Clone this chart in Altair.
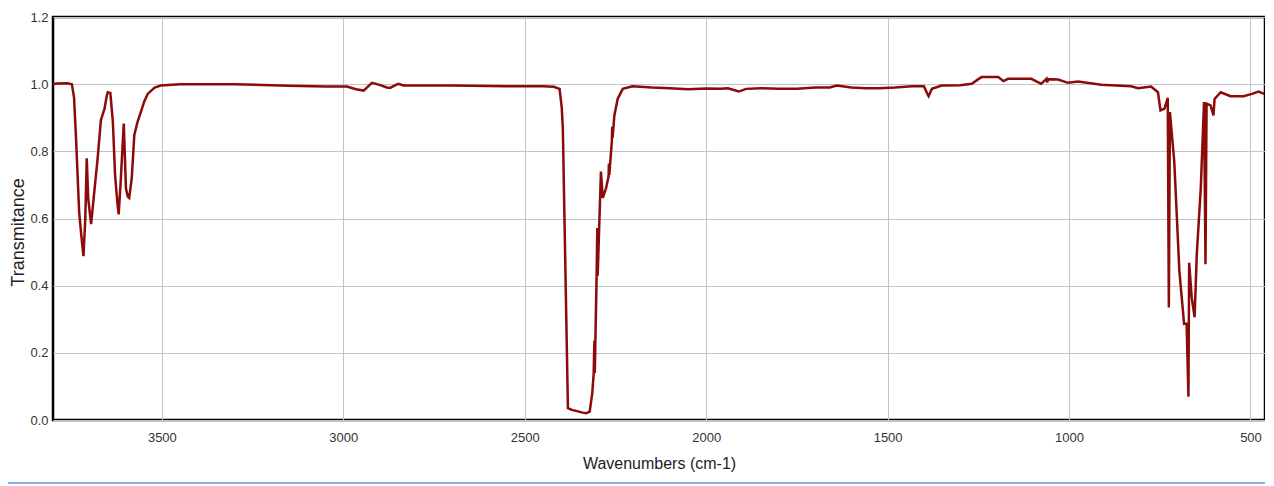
import altair as alt
import pandas as pd

wavenumber = [
    3800, 3790, 3760, 3748, 3742, 3737, 3728, 3722, 3716, 3711, 3707, 3703, 3695, 3688,
    3677, 3668, 3663, 3658, 3652, 3649, 3642, 3635, 3629, 3622, 3619, 3614, 3605, 3599,
    3594, 3590, 3583, 3576, 3567, 3558, 3548, 3539, 3520, 3503, 3450, 3300, 3150, 3050,
    2990, 2965, 2944, 2930, 2921, 2900, 2880, 2871, 2855, 2848, 2834, 2700, 2550, 2450,
    2420, 2404, 2398, 2395, 2381, 2370, 2340, 2331, 2321, 2314, 2310, 2308, 2307, 2302,
    2300, 2299, 2290, 2285, 2276, 2269, 2268, 2267, 2260, 2259, 2258, 2253, 2244, 2230,
    2203, 2150, 2100, 2050, 2000, 1960, 1940, 1910, 1890, 1850, 1800, 1750, 1700, 1660,
    1640, 1600, 1560, 1525, 1480, 1433, 1400, 1390, 1387, 1378, 1351, 1300, 1268, 1250,
    1241, 1195, 1181, 1168, 1104, 1077, 1062, 1060, 1058, 1030, 1003, 975, 911, 829,
    810, 774, 755, 748, 737, 728, 725, 722, 710, 696, 683, 676, 671, 669,
    662, 654, 648, 637, 628, 624, 621, 610, 602, 599, 582, 555, 519, 496,
    478, 462,
]
transmittance = [
    1.000, 1.002, 1.003, 1.000, 0.960, 0.850, 0.620, 0.550, 0.488, 0.600, 0.779, 0.660, 0.583, 0.660,
    0.779, 0.893, 0.910, 0.927, 0.965, 0.976, 0.974, 0.888, 0.730, 0.640, 0.612, 0.700, 0.883, 0.690,
    0.665, 0.661, 0.720, 0.848, 0.888, 0.917, 0.950, 0.971, 0.990, 0.996, 1.000, 1.000, 0.995, 0.993,
    0.993, 0.985, 0.981, 0.995, 1.004, 0.998, 0.990, 0.989, 0.998, 1.001, 0.996, 0.996, 0.994, 0.994,
    0.992, 0.986, 0.930, 0.868, 0.035, 0.030, 0.022, 0.020, 0.025, 0.079, 0.138, 0.237, 0.140, 0.424,
    0.572, 0.430, 0.740, 0.661, 0.690, 0.725, 0.764, 0.730, 0.828, 0.873, 0.840, 0.907, 0.956, 0.986,
    0.994, 0.990, 0.988, 0.985, 0.987, 0.986, 0.988, 0.978, 0.986, 0.988, 0.986, 0.986, 0.990, 0.990,
    0.996, 0.990, 0.988, 0.988, 0.990, 0.994, 0.994, 0.970, 0.964, 0.986, 0.996, 0.997, 1.001, 1.015,
    1.021, 1.021, 1.009, 1.016, 1.016, 1.001, 1.016, 1.005, 1.015, 1.014, 1.004, 1.008, 0.998, 0.994,
    0.988, 0.993, 0.976, 0.922, 0.927, 0.959, 0.335, 0.917, 0.769, 0.444, 0.286, 0.287, 0.069, 0.468,
    0.365, 0.306, 0.493, 0.690, 0.947, 0.464, 0.942, 0.937, 0.907, 0.956, 0.976, 0.964, 0.964, 0.971,
    0.978, 0.971,
]
x_ticks = [3500, 3000, 2500, 2000, 1500, 1000, 500]
y_ticks = [0.0, 0.2, 0.4, 0.6, 0.8, 1.0, 1.2]

df = pd.DataFrame({
    "wn": wavenumber,
    "t": transmittance,
    "i": list(range(len(wavenumber))),
})

FONT = "Liberation Sans"
W, H = 1212, 403

line = alt.Chart(df).mark_line(color="#8b0a0a", strokeWidth=2.5).encode(
    x=alt.X("wn:Q",
            scale=alt.Scale(domain=[460, 3800], reverse=True, nice=False, zero=False),
            axis=alt.Axis(values=x_ticks, format="d", title="Wavenumbers (cm-1)",
                          grid=True, gridColor="#c4c4c4", gridWidth=1,
                          ticks=False, domain=False, labelPadding=11,
                          labelFontSize=13, labelColor="#333333",
                          titleFontSize=16, titleFontWeight="normal", titleColor="#222222",
                          titlePadding=11, labelFont=FONT, titleFont=FONT)),
    y=alt.Y("t:Q",
            scale=alt.Scale(domain=[0, 1.2], nice=False, zero=False),
            axis=alt.Axis(values=y_ticks, format=".1f", title="Transmitance",
                          grid=True, gridColor="#c4c4c4", gridWidth=1,
                          ticks=False, domain=False, labelPadding=5,
                          labelFontSize=13, labelColor="#333333",
                          titleFontSize=18, titleFontWeight="normal", titleColor="#222222",
                          titlePadding=2, titleY=215, labelFont=FONT, titleFont=FONT)),
    order="i:Q",
)

sep = alt.Chart(alt.Data(values=[{}])).mark_rule(color="#8cb3e3", strokeWidth=2).encode(
    x=alt.value(-50), x2=alt.value(W + 5), y=alt.value(466)
)

chart = alt.layer(line, sep).properties(
    width=W, height=H,
    autosize=alt.AutoSizeParams(type="none"),
    padding={"left": 45, "top": 9, "right": 0, "bottom": 64},
).configure_view(stroke="black", strokeWidth=2.5)

chart.save("out.html", embed_options={"renderer": "svg", "actions": False})
